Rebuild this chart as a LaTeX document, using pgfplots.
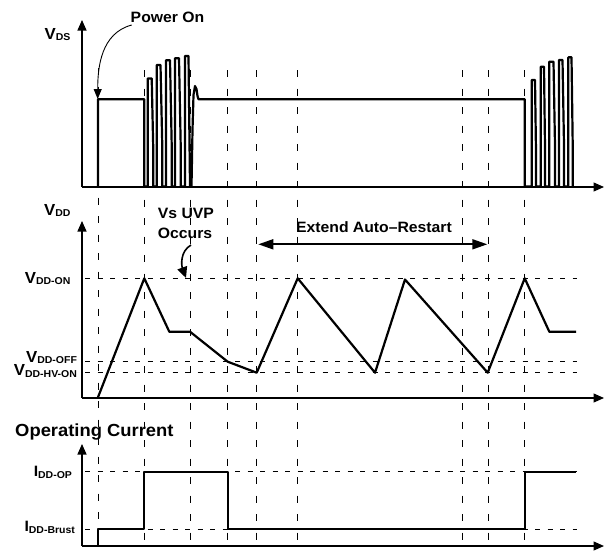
\documentclass[border=0pt]{standalone}
\usepackage{fontspec}
\setmainfont{Liberation Sans}[FakeStretch=1.05]
\usepackage{pgfplots}
\pgfplotsset{compat=1.18}
\usetikzlibrary{arrows.meta}
\newcommand{\lab}[2]{\bfseries{\fontsize{16}{16}\selectfont #1}{\fontsize{10}{10}\selectfont\raisebox{-1.6pt}{#2}}}
\newcommand{\labi}[2]{\bfseries{\fontsize{15}{15}\selectfont #1}{\fontsize{10}{10}\selectfont\raisebox{-1.6pt}{#2}}}
\newcommand{\txt}[1]{\bfseries\fontsize{#1}{#1}\selectfont}
\begin{document}
\begin{tikzpicture}
\begin{axis}[x=1pt,y=1pt,xmin=0,xmax=607,ymin=0,ymax=555,y dir=reverse,
  hide axis, clip=false, no markers,
  every node/.append style={inner sep=0pt},
  vdash/.style={black, line width=0.9pt, dash pattern=on 7pt off 11.5pt},
  hdash/.style={black, line width=0.9pt, dash pattern=on 5pt off 7.5pt},
  ax/.style={black, line width=1.3pt, -{Triangle[length=10.5pt,width=9pt]}},
  sig/.style={black, line width=2.2pt, line join=round},
]
\path (axis cs:0,0) rectangle (axis cs:607,555);
% vertical dashed lines
\addplot[vdash] coordinates {(98,68) (98,546)};
\addplot[vdash] coordinates {(144.3,70) (144.3,546)};
\addplot[vdash] coordinates {(190,70) (190,546)};
\addplot[vdash] coordinates {(227.7,70) (227.7,546)};
\addplot[vdash] coordinates {(256.7,70) (256.7,546)};
\addplot[vdash] coordinates {(297.7,70) (297.7,546)};
\addplot[vdash] coordinates {(462.3,70) (462.3,546)};
\addplot[vdash] coordinates {(488.7,70) (488.7,546)};
\addplot[vdash] coordinates {(524.7,70) (524.7,546)};
% horizontal dashed lines
\addplot[hdash] coordinates {(85,278.3) (577,278.3)};
\addplot[hdash] coordinates {(85,361) (577,361)};
\addplot[hdash] coordinates {(85,372.7) (577,372.7)};
\addplot[hdash] coordinates {(85,471.7) (577,471.7)};
\addplot[hdash] coordinates {(85,529.3) (577,529.3)};
% axes
\addplot[ax] coordinates {(82,187) (82,20)};
\addplot[ax] coordinates {(82,187) (604,187)};
\addplot[ax] coordinates {(82,398) (82,221)};
\addplot[ax] coordinates {(82,398) (604,398)};
\addplot[ax] coordinates {(82,546) (82,444)};
\addplot[ax] coordinates {(82,546) (604,546)};
% VDS
\addplot[sig] coordinates {(98,186.5)(98,99.3)(144.3,99.3)(144.3,186.5)
(147.7,186.5)(147.7,78.5)(151.7,78.5)(153.3,151)(153.3,186.5)
(156.7,186.5)(156.7,65)(160.5,65)(162.3,147)(162.3,186.5)
(166,186.5)(166,60.3)(170,60.3)(171.7,145)(171.7,186.5)
(175,186.5)(175,58.3)(179,58.3)(180.7,145)(180.7,186.5)
(185,186.5)(185,56)(188.5,56)(190,186.5)(191.5,186.5)
(192.5,130)(193.5,95)(195,86)(196.5,89)(197.5,96)(198.5,99.3)
(524.7,99.3)(524.7,186.5)
(531.7,186.5)(531.7,80)(535,80)(536,152)(536,186.5)
(540.7,186.5)(540.7,66.7)(544,66.7)(545,147.7)(545,186.5)
(549.3,186.5)(549.3,61.7)(553.5,61.7)(555,145.7)(555,186.5)
(559,186.5)(559,60)(562.5,60)(564,145)(564,186.5)
(568.3,186.5)(568.3,57.3)(571.5,57.3)(572.7,144.3)(572.7,186.5)};
% VDD
\addplot[sig] coordinates {(97.7,398)(144.3,278.3)(169.3,331.7)(190,331.7)(227.7,361.7)(256.7,372.7)(297.7,278.3)(375,372.7)(405,279.5)(487.7,372.7)(524.7,278.3)(549.3,331.7)(576,331.7)};
% IDD
\addplot[sig] coordinates {(97.7,546)(97.7,529.3)(144.3,529.3)(144.3,471.7)(227.7,471.7)(227.7,529.3)(524.7,529.3)(524.7,471.7)(576,471.7)};
% double arrow
\addplot[black, line width=1.8pt, {Triangle[length=15pt,width=10pt]}-{Triangle[length=15pt,width=10pt]}] coordinates {(258.3,244.3) (487.3,244.3)};
% annotations
\draw[black, line width=0.9pt, -{Triangle[length=10pt,width=8pt]}] (axis cs:131.7,25) to[out=195,in=90] (axis cs:97.7,99);
\draw[black, line width=1.6pt, -{Triangle[length=11pt,width=10pt]}] (axis cs:191,245) to[out=210,in=110] (axis cs:186,278);
% labels
\node[anchor=base] at (axis cs:167.5,22.7) {\txt{15}Power On};
\node[anchor=base east] at (axis cs:74,39.3) {\lab{V}{DS}};
\node[anchor=base east] at (axis cs:74,215) {\lab{V}{DD}};
\node[anchor=base] at (axis cs:186,218.3) {\txt{15}Vs UVP};
\node[anchor=base] at (axis cs:185,238.3) {\txt{15}Occurs};
\node[anchor=base] at (axis cs:374,232.7) {\txt{15}Extend Auto–Restart};
\node[anchor=base east] at (axis cs:74,283.3) {\lab{V}{DD-ON}};
\node[anchor=base east] at (axis cs:80.5,362) {\lab{V}{DD-OFF}};
\node[anchor=base east] at (axis cs:80.5,375.5) {\lab{V}{DD-HV-ON}};
\node[anchor=base west] at (axis cs:11.7,436) {\txt{17.5}Operating Current};
\node[anchor=base east] at (axis cs:75.5,476.7) {\labi{I}{DD-OP}};
\node[anchor=base east] at (axis cs:78.5,531.7) {\labi{I}{DD-Brust}};
\end{axis}
\end{tikzpicture}
\end{document}
